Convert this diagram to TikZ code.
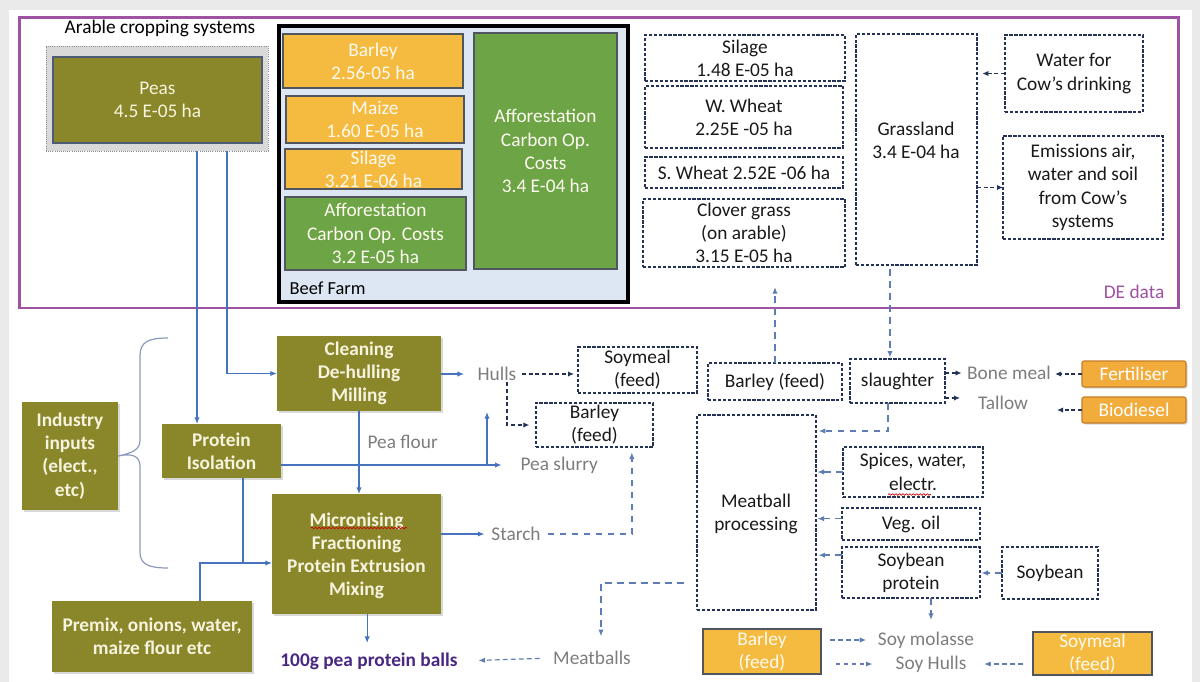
\documentclass[tikz,border=0pt]{standalone}
\usepackage{fontspec}
\setmainfont{Carlito}
\usetikzlibrary{arrows.meta,fit,calc,decorations.pathmorphing,shadows}

\definecolor{cOlive}{RGB}{138,135,43}
\definecolor{cCream}{RGB}{246,243,222}
\definecolor{cYellow}{RGB}{245,187,64}
\definecolor{cGreen}{RGB}{108,164,70}
\definecolor{cSky}{RGB}{221,231,243}
\definecolor{cPurple}{RGB}{160,82,162}
\definecolor{cBlueLine}{RGB}{70,114,190}
\definecolor{cNavy}{RGB}{35,50,85}
\definecolor{cDashBlue}{RGB}{95,125,180}
\definecolor{cGrayTxt}{RGB}{125,125,125}
\definecolor{cBoxGray}{RGB}{217,217,217}
\definecolor{cEdge}{RGB}{80,85,95}
\definecolor{cOrange}{RGB}{242,172,60}
\definecolor{cOrangeEdge}{RGB}{195,125,40}
\definecolor{cDeep}{RGB}{72,40,130}
\definecolor{cBrace}{RGB}{140,155,185}
\definecolor{cPage}{RGB}{234,234,234}

\newcommand\fsz{\fontsize{14.5}{17.4}\selectfont}

\begin{document}
\begin{tikzpicture}[x=0.75pt,y=-0.75pt,
  font=\fsz,
  area/.style={fit={#1}, inner sep=0pt, outer sep=0pt},
  olbox/.style={fill=cOlive, drop shadow={shadow xshift=1.2pt, shadow yshift=-1.2pt, opacity=0.3}},
  oltxt/.style={text=cCream, font=\fsz\bfseries, align=center},
  ylbox/.style={fill=cYellow, draw=cEdge, line width=0.8pt},
  grbox/.style={fill=cGreen, draw=cEdge, line width=0.8pt},
  lighttxt/.style={text=white!92!cYellow, align=center},
  wbox/.style={fill=white, draw=cNavy, line width=1.1pt, dash pattern=on 2.4pt off 1.3pt},
  dtxt/.style={text=black!90, align=center},
  gtxt/.style={text=cGrayTxt, inner sep=1pt},
  orbox/.style={fill=cOrange, draw=cOrangeEdge, line width=0.8pt, rounded corners=1.5pt,
    drop shadow={shadow xshift=1.2pt, shadow yshift=-1.2pt, opacity=0.3}},
  bbox/.style={fill=cYellow, draw=cEdge, line width=0.8pt},
  bline/.style={draw=cBlueLine, line width=0.9pt, -{Latex[length=5pt,width=4pt]}},
  nline/.style={draw=cNavy, line width=1.2pt, dash pattern=on 3pt off 2pt, -{Latex[length=4.5pt,width=4pt]}},
  bdash/.style={draw=cDashBlue, line width=1.1pt, dash pattern=on 5pt off 4pt, -{Latex[length=5pt,width=4pt]}},
  squiggle/.style={draw=red!80!black, line width=0.5pt, decorate, decoration={snake, amplitude=0.6pt, segment length=2.6pt}}
]

% page and frame
\fill[cPage] (0,0) rectangle (1200,682);
\fill[white] (9,10) rectangle (1192,682);
\useasboundingbox (0,0) rectangle (1200,682);

\node[draw=cPurple, line width=2.2pt, area={(19.5,17.5)(1178.5,308)}] (de) {};
\node[text=cPurple, anchor=east] (de-t) at (1169,292) {DE data};

% arable cropping systems
\node (arable-t) at (160,28) {Arable cropping systems};
\node[area={(46,46)(268,151)}, fill=cBoxGray, draw=black!45, line width=0.6pt, densely dotted] (arable) {};
\node[area={(53,57)(262,143)}, fill=cOlive, draw=cNavy!80, line width=0.9pt] (peas) {};
\node[text=cCream, align=center] (peas-t) at (peas) {Peas\\4.5 E-05 ha};

% beef farm
\node[area={(279,26)(628,302)}, fill=cSky, draw=black, line width=2.6pt] (beef) {};
\node[anchor=west, font=\fontsize{13.8}{16}\selectfont] (beef-t) at (285,288) {Beef Farm};
\node[ylbox, area={(283,34)(463,88)}] (barley) {};
\node[lighttxt] (barley-t) at (barley) {Barley\\2.56-05 ha};
\node[ylbox, area={(286,96)(464,143)}] (maize) {};
\node[lighttxt] (maize-t) at (maize) {Maize\\1.60 E-05 ha};
\node[ylbox, area={(285,149)(462,189)}] (silb) {};
\node[lighttxt] (silb-t) at (silb) {Silage\\3.21 E-06 ha};
\node[grbox, area={(285,197)(466,270)}] (affs) {};
\node[lighttxt] (affs-t) at (affs) {Afforestation\\Carbon Op. Costs\\3.2 E-05 ha};
\node[grbox, area={(474,33)(617,269)}] (affb) {};
\node[lighttxt] (affb-t) at (affb) {Afforestation\\Carbon Op.\\Costs\\3.4 E-04 ha};

% DE crops
\node[wbox, area={(645,35)(845,81)}] (silde) {};
\node[dtxt] (silde-t) at (silde) {Silage\\1.48 E-05 ha};
\node[wbox, area={(645,86)(843,148)}] (wwheat) {};
\node[dtxt] (wwheat-t) at (wwheat) {W. Wheat\\2.25E -05 ha};
\node[wbox, area={(645,157)(843,188)}] (swheat) {};
\node[dtxt] (swheat-t) at (swheat) {S. Wheat 2.52E -06 ha};
\node[wbox, area={(643,199)(845,267)}] (clover) {};
\node[dtxt] (clover-t) at (clover) {Clover grass\\(on arable)\\3.15 E-05 ha};
\node[wbox, area={(856,34)(977,265)}] (grass) {};
\node[dtxt] (grass-t) at (916,140) {Grassland\\3.4 E-04 ha};
\node[wbox, area={(1005,35)(1143,112)}] (water) {};
\node[dtxt] (water-t) at (water) {Water for\\Cow’s drinking};
\node[wbox, area={(1003,136)(1163,239)}] (emis) {};
\node[dtxt] (emis-t) at (emis) {Emissions air,\\water and soil\\from Cow’s\\systems};

\draw[nline, shorten >=4pt] (water.west) -- (water.west -| grass.east);
\draw[nline] (emis.west -| grass.east) -- (emis.west);

% pea processing chain
\node[olbox, area={(22,402)(118,510)}] (ind) {};
\node[oltxt] (ind-t) at (ind) {Industry\\inputs\\(elect.,\\etc)};
\node[olbox, area={(277,336)(441,411)}] (clean) {};
\node[oltxt] (clean-t) at (clean) {Cleaning\\De-hulling\\Milling};
\node[olbox, area={(162,424)(281,478)}] (pis) {};
\node[oltxt] (pis-t) at (pis) {Protein\\Isolation};
\node[olbox, area={(272,494)(441,614)}] (micro) {};
\node[oltxt] (micro-t) at (356.5,556) {Micronising\\Fractioning\\Protein Extrusion\\Mixing};
\node[olbox, area={(52,601)(252,672)}] (premix) {};
\node[oltxt] (premix-t) at (premix) {Premix, onions, water,\\maize flour etc};
\draw[squiggle] (311,528) -- (407,528);

% brace grouping the industry inputs
\draw[cBrace, line width=0.9pt] (168,338) .. controls (148,338) and (140,342) .. (140,356)
  -- (140,440) .. controls (140,450) and (132,453) .. (ind.east)
  .. controls (132,453) and (140,456) .. (140,466)
  -- (140,552) .. controls (140,564) and (148,568) .. (168,568);

\coordinate (pa) at ($(arable.south)+(40,0)$);
\coordinate (pb) at ($(arable.south)+(70,0)$);
\draw[bline] (pa) -- (pa |- pis.north);
\draw[bline] (pb) |- (clean.west);

\coordinate (j1) at (243,563);
\coordinate (j2) at (200,563);
\draw[bline] (pis.south -| j1) -- (j1) -- (j1 -| micro.west);
\draw[bline, -] (premix.north -| j2) -- (j2) -- (j1);
\draw[bline] (clean.south) -- (clean.south |- micro.north);

\node[gtxt, anchor=west] (flour) at (366,442) {Pea flour};
\node[gtxt, anchor=west] (slurry) at (519,465) {Pea slurry};
\node[gtxt] (hulls) at (497,374) {Hulls};
\node[gtxt] (starch) at (516,534) {Starch};
\draw[bline, shorten >=13pt] (pis.east |- slurry.west) -- (slurry.west);
\coordinate (upx) at (487,412);
\draw[bline] (upx |- slurry.west) -- (upx);
\draw[bline, shorten >=9pt] (clean.east |- hulls.west) -- (hulls.west);
\draw[bline, shorten >=4pt] (micro.east |- starch.west) -- (starch.west);

\node[wbox, area={(578,347)(697,393)}] (soyf) {};
\node[dtxt] (soyf-t) at (soyf) {Soymeal\\(feed)};
\node[wbox, area={(536,403)(653,447)}] (barf) {};
\node[dtxt] (barf-t) at (barf) {Barley\\(feed)};
\draw[nline, shorten <=3pt, shorten >=3pt] (hulls.east) -- (hulls.east -| soyf.west);
\draw[nline, shorten >=5pt] ([xshift=7.5pt]hulls.south) |- (barf.west);
\draw[bdash, shorten <=4pt, shorten >=4pt] (starch.east) -| ([xshift=28pt]barf.south);

\node[text=cDeep, font=\fsz\bfseries] (pp) at (369,661) {100g pea protein balls};
\draw[bline] ([xshift=8pt]micro.south) -- ++(0,29);

% beef chain
\node[wbox, area={(708,363)(842,400)}] (bmid) {};
\node[dtxt] (bmid-t) at (bmid) {Barley (feed)};
\node[wbox, area={(850,359)(945,403)}] (slaughter) {};
\node[dtxt] (slaughter-t) at (slaughter) {slaughter};
\draw[bdash, shorten >=15pt] (bmid.north) -- (bmid.north |- clover.south);
\coordinate (gs) at (890,300);
\draw[bdash, shorten <=3pt, shorten >=1pt] (grass.south -| gs) -- (slaughter.north -| gs);

\node[gtxt] (bone) at (1009,373) {Bone meal};
\node[gtxt] (tallow) at (1003,403) {Tallow};
\node[orbox, area={(1082,361)(1186,387)}] (fert) {};
\node[text=white, align=center] (fert-t) at (fert) {Fertiliser};
\node[orbox, area={(1082,397)(1186,423)}] (bio) {};
\node[text=white, align=center] (bio-t) at (bio) {Biodiesel};
\draw[nline, shorten >=3pt] (slaughter.east |- bone.west) -- (bone.west);
\draw[nline] ([yshift=3.75pt]slaughter.south east) -- ++(15,0);
\draw[nline, shorten >=2pt] (fert.west) -- (fert.west -| bone.east);
\draw[nline] (bio.west) -- ++(-25,0);

\node[wbox, area={(697,415)(816,610)}] (meat) {};
\node[dtxt] (meat-t) at (756,514) {Meatball\\processing};
\node[wbox, area={(843,447)(983,497)}] (spice) {};
\node[dtxt] (spice-t) at (913,472) {Spices, water,\\electr.};
\draw[squiggle] (888,494.5) -- (931,494.5);
\node[wbox, area={(842,508)(980,540)}] (veg) {};
\node[dtxt] (veg-t) at (veg) {Veg. oil};
\node[wbox, area={(842,547)(980,598)}] (soyp) {};
\node[dtxt] (soyp-t) at (soyp) {Soybean\\protein};
\node[wbox, area={(1002,547)(1098,599)}] (soyb) {};
\node[dtxt] (soyb-t) at (soyb) {Soybean};

\draw[bdash, shorten >=2pt] ([xshift=-7pt]slaughter.south) |- ([yshift=-12pt]meat.north east);
\draw[bdash, shorten >=1pt] (spice.west) -- (spice.west -| meat.east);
\draw[bdash, shorten >=1pt] ([yshift=4pt]veg.west) -- ([yshift=4pt]veg.west -| meat.east);
\draw[bdash, shorten >=1pt] ([yshift=13pt]soyp.west) -- ++(-25,0);
\draw[bdash, shorten >=1pt] (soyb.west) -- (soyb.west -| soyp.east);
\draw[bdash] ([xshift=15pt]soyp.south) -- ++(0,22);

\node[gtxt] (mballs) at (592,658) {Meatballs};
\coordinate (mk) at (601,583);
\draw[bdash, shorten <=10pt, shorten >=10pt] (meat.west |- mk) -- (mk) -- (mk |- mballs.north);
\draw[bdash, dash pattern=on 3.5pt off 2.5pt, line width=0.9pt, shorten <=9pt, shorten >=12pt] (mballs.west) -- (pp.east);

% soy by-products
\node[bbox, area={(703,629)(821,674)}] (bbot) {};
\node[lighttxt] (bbot-t) at (bbot) {Barley\\(feed)};
\node[bbox, area={(1033,632)(1152,675)}] (smb) {};
\node[lighttxt] (smb-t) at (smb) {Soymeal\\(feed)};
\node[gtxt] (molasse) at (926,640) {Soy molasse};
\node[gtxt] (shulls) at (931,664) {Soy Hulls};
\draw[bdash, dash pattern=on 3.5pt off 2.5pt, shorten <=7pt, shorten >=7.5pt] (bbot.east |- molasse.west) -- (molasse.west);
\draw[bdash, dash pattern=on 3.5pt off 2.5pt, shorten <=11pt, shorten >=16pt] (bbot.east |- shulls.west) -- (shulls.west);
\draw[bdash, dash pattern=on 3.5pt off 2.5pt, shorten <=7.5pt, shorten >=12pt] (smb.west |- shulls.east) -- (shulls.east);

\end{tikzpicture}
\end{document}
